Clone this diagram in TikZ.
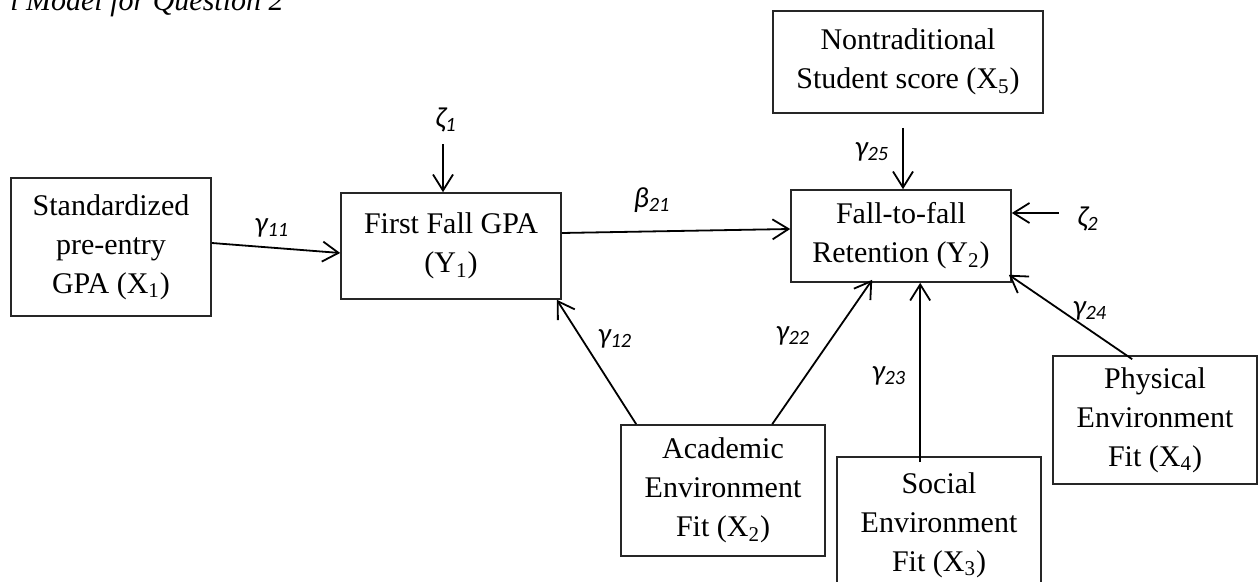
\documentclass[tikz,border=0pt]{standalone}
\usepackage{fontspec}
\setmainfont{Liberation Serif}
\newfontfamily\carl{Carlito}
\usetikzlibrary{arrows.meta,calc}
\tikzset{
  box/.style={draw=black!85, line width=0.8pt, rectangle, inner sep=0pt, align=center,
    font=\fontsize{15}{19.5}\selectfont},
  coef/.style={inner sep=0pt, font=\carl\itshape\fontsize{14.5}{17}\selectfont},
  arr/.style={line width=0.9pt, -{Straight Barb[length=8pt,width=10pt,line width=0.9pt]}},
  ln/.style={line width=0.9pt}
}
\begin{document}
\begin{tikzpicture}[x=0.5pt,y=-0.5pt]
\useasboundingbox (0,0) rectangle (1259,582);
% caption (cut at top, as in the reference)
\node[anchor=base east, inner sep=0pt, font=\fontsize{15}{19}\selectfont\itshape] (cap) at (284,11) {l Model for Question 2};
% boxes
\node[box, minimum width=100pt, minimum height=69pt] (X1) at (111,247) {Standardized\\pre-entry\\GPA (X\textsubscript{1})};
\node[box, minimum width=110pt, minimum height=53pt] (Y1) at (451,246) {First Fall GPA\\(Y\textsubscript{1})};
\node[box, minimum width=110pt, minimum height=46pt] (Y2) at (901,236) {Fall-to-fall\\Retention (Y\textsubscript{2})};
\node[box, minimum width=135pt, minimum height=51pt] (X5) at (908,62) {Nontraditional\\Student score (X\textsubscript{5})};
\node[box, minimum width=102pt, minimum height=65.5pt] (X2) at (723,490.5) {Academic\\Environment\\Fit (X\textsubscript{2})};
\node[box, minimum width=102pt, minimum height=68pt] (X3) at (939,525) {Social\\Environment\\Fit (X\textsubscript{3})};
\node[box, minimum width=102pt, minimum height=64pt] (X4) at (1155,420) {Physical\\Environment\\Fit (X\textsubscript{4})};
% coefficient labels
\node[coef] (g11) at (272,228) {γ\textsubscript{11}};
\node[coef] (z1) at (446,120) {ζ\textsubscript{1}};
\node[coef] (b21) at (652,200) {β\textsubscript{21}};
\node[coef] (g25) at (872,152) {γ\textsubscript{25}};
\node[coef] (z2) at (1088,219) {ζ\textsubscript{2}};
\node[coef] (g12) at (615,339) {γ\textsubscript{12}};
\node[coef] (g22) at (793,336) {γ\textsubscript{22}};
\node[coef] (g23) at (889,376) {γ\textsubscript{23}};
\node[coef] (g24) at (1090,311) {γ\textsubscript{24}};
% connectors
\draw[arr] ($(X1.east)+(0,-4)$) -- ($(Y1.west)+(0,7)$);
\draw[arr] ($(Y1.north)+(-8,-48)$) -- ($(Y1.north)+(-8,0)$);
\draw[arr] ($(Y1.east)+(0,-13)$) -- ($(Y2.west)+(0,-7)$);
\draw[arr] ($(X5.south)+(-5,14)$) -- ($(Y2.north)+(2,0)$);
\draw[arr] ($(Y2.east)+(47,-23)$) -- ($(Y2.east)+(0,-23)$);
\draw[arr] ($(X2.north west)+(16,0)$) -- ($(Y1.south east)+(-5,0)$);
\draw[arr] ($(X2.north west)+(152,0)$) -- ($(Y2.south west)+(82,-3)$);
\draw[arr] ($(X3.north west)+(84,6)$) -- ($(Y2.south west)+(130,0)$);
\draw[arr] ($(X4.north west)+(80,4)$) -- ($(Y2.south east)+(-3,-8)$);
\end{tikzpicture}
\end{document}
